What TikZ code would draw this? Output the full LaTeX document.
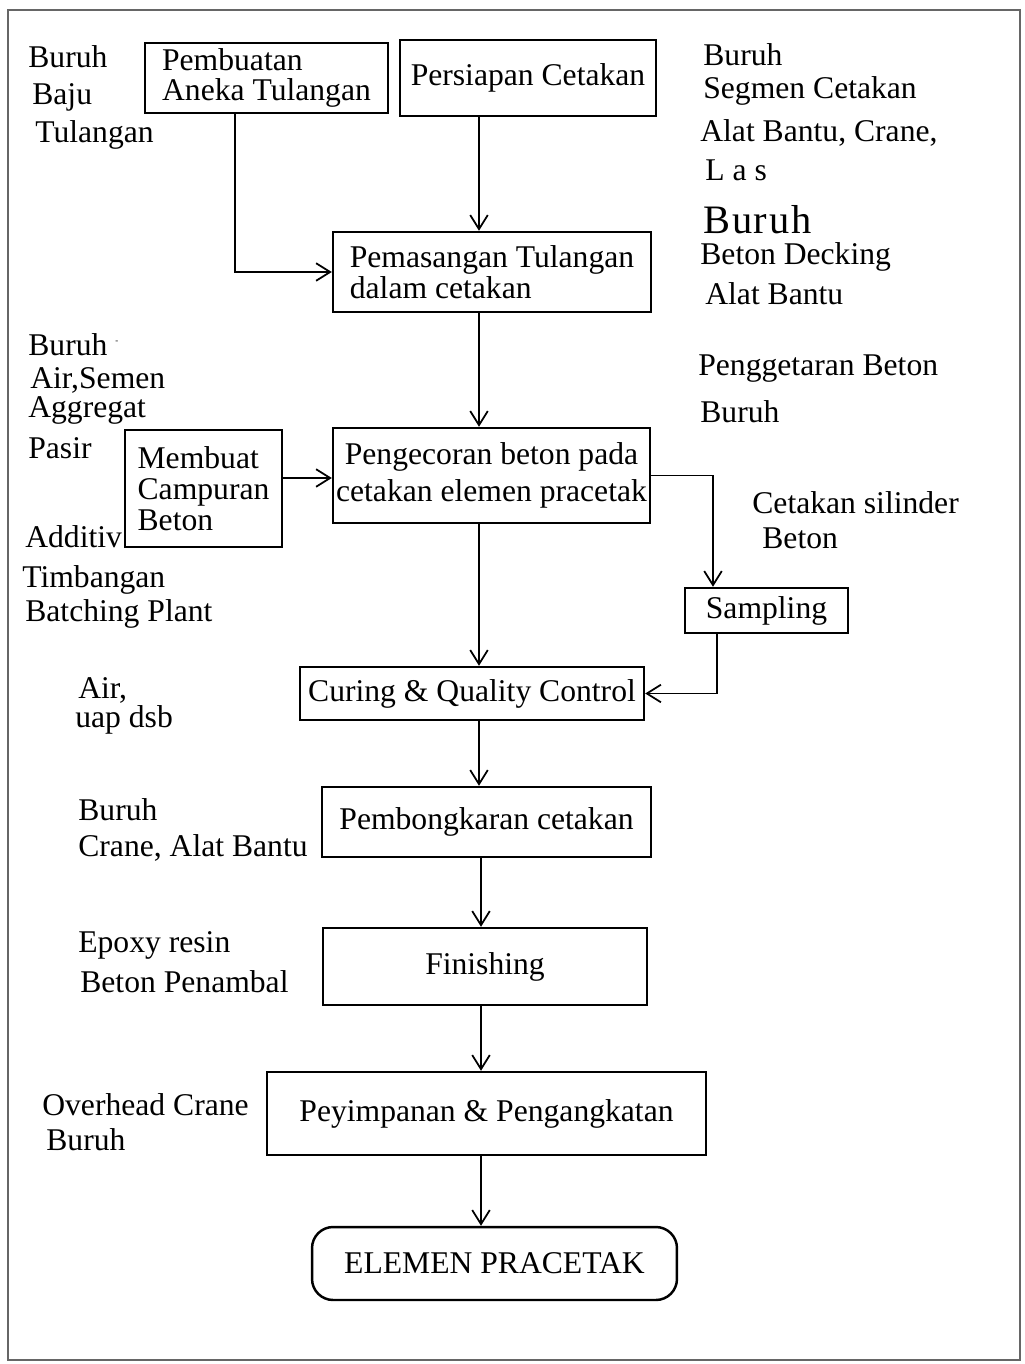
\documentclass[tikz,border=0pt]{standalone}
\usepackage{fontspec}
\setmainfont{Liberation Serif}
\usetikzlibrary{arrows.meta}
\begin{document}
\begin{tikzpicture}[x=0.02cm,y=-0.02cm,
  every node/.style={font=\fontsize{18}{20}\selectfont},
  box/.style={draw,line width=1.4pt,inner sep=0pt,align=center},
  lbl/.style={anchor=west,inner sep=0pt},
  arr/.style={line width=0.9pt,-{Straight Barb[length=8pt,width=10pt,line width=1pt]}},
  frame/.style={draw=black!60,line width=0.8pt}]
\useasboundingbox (0,0) rectangle (1024,1364);
\draw[frame] (8,10) rectangle (1020,1360);

% process boxes
\node[box,minimum width=4.86cm,minimum height=1.40cm,align=left,font=\fontsize{18}{17}\selectfont] (b1) at (266.5,78) {Pembuatan\\Aneka Tulangan};
\node[box,minimum width=5.12cm,minimum height=1.52cm] (b2) at (528,78) {Persiapan Cetakan};
\node[box,minimum width=6.36cm,minimum height=1.60cm,align=left,font=\fontsize{18}{16}\selectfont] (b3) at (492,272) {Pemasangan Tulangan\\ dalam cetakan};
\node[box,minimum width=3.14cm,minimum height=2.34cm,align=left,font=\fontsize{18}{17.6}\selectfont] (b4) at (203.5,488.5) {Membuat\\Campuran\\ Beton};
\node[box,minimum width=6.34cm,minimum height=1.90cm,font=\fontsize{18}{21.5}\selectfont] (b5) at (491.5,475.5) {Pengecoran beton pada\\cetakan elemen pracetak};
\node[box,minimum width=3.26cm,minimum height=0.90cm] (b6) at (766.5,610.5) {Sampling};
\node[box,minimum width=6.88cm,minimum height=1.06cm] (b7) at (472,693.5) {Curing \& Quality Control};
\node[box,minimum width=6.58cm,minimum height=1.40cm] (b8) at (486.5,822) {Pembongkaran cetakan};
\node[box,minimum width=6.48cm,minimum height=1.54cm] (b9) at (485,966.5) {Finishing};
\node[box,minimum width=8.78cm,minimum height=1.66cm] (b10) at (486.5,1113.5) {Peyimpanan \& Pengangkatan};
\node[box,minimum width=7.30cm,minimum height=1.46cm,rounded corners=12pt] (b11) at (494.5,1263.5) {ELEMEN PRACETAK};

% resources beside each step
\node[lbl] (l1) at (28,57) {Buruh};
\node[lbl] (l2) at (32,97) {Baju};
\node[lbl] (l3) at (35,135) {Tulangan};
\node[lbl] (r1) at (703,55) {Buruh};
\node[lbl] (r2) at (703,91) {Segmen Cetakan};
\node[lbl] (r3) at (700,133) {Alat Bantu, Crane,};
\node[lbl] (r4) at (705,170) {L a s};
\node[lbl,font=\fontsize{23}{25}\selectfont] (r5) at (703,220) {B\kern1pt u\kern1pt r\kern1pt u\kern1pt h};
\node[lbl] (r6) at (700,257) {Beton Decking};
\node[lbl] (r7) at (705,294) {Alat Bantu};
\node[lbl] (l4) at (28,345) {Buruh \raisebox{7pt}{\tiny -}};
\node[lbl] (l5) at (30,380) {Air,Semen};
\node[lbl] (l6) at (28,410) {Aggregat};
\node[lbl] (l7) at (28,448) {Pasir};
\node[lbl] (l8) at (25,537) {Additiv};
\node[lbl] (l9) at (22,580) {Timbangan};
\node[lbl] (l10) at (25,614) {Batching Plant};
\node[lbl] (r8) at (698,369) {Penggetaran Beton};
\node[lbl] (r9) at (700,412) {Buruh};
\node[lbl] (r10) at (752,503) {Cetakan silinder};
\node[lbl] (r11) at (762,538) {Beton};
\node[lbl] (l11) at (78,690) {Air,};
\node[lbl] (l12) at (75,720) {uap dsb};
\node[lbl] (l13) at (78,810) {Buruh};
\node[lbl] (l14) at (78,848) {Crane, Alat Bantu};
\node[lbl] (l15) at (78,945) {Epoxy resin};
\node[lbl] (l16) at (80,982) {Beton Penambal};
\node[lbl] (l17) at (42,1105) {Overhead Crane};
\node[lbl] (l18) at (46,1140) {Buruh};

% routing guides
\coordinate (t1) at (235,0);
\coordinate (sp) at (479,0);
\coordinate (sq) at (481,0);
\coordinate (m) at (0,478);
\coordinate (s1) at (713,0);
\coordinate (s2) at (717,0);

% connectors
\draw[arr] (b1.south -| t1) |- (b3.west);
\draw[arr] (b2.south -| sp) -- (b3.north -| sp);
\draw[arr] (b3.south -| sp) -- (b5.north -| sp);
\draw[arr] (b4.east |- m) -- (b5.west |- m);
\draw[arr] (b5.east) -| (b6.north -| s1);
\draw[arr] (b6.south -| s2) |- (b7.east);
\draw[arr] (b5.south -| sp) -- (b7.north -| sp);
\draw[arr] (b7.south -| sp) -- (b8.north -| sp);
\draw[arr] (b8.south -| sq) -- (b9.north -| sq);
\draw[arr] (b9.south -| sq) -- (b10.north -| sq);
\draw[arr] (b10.south -| sq) -- (b11.north -| sq);
\end{tikzpicture}
\end{document}
